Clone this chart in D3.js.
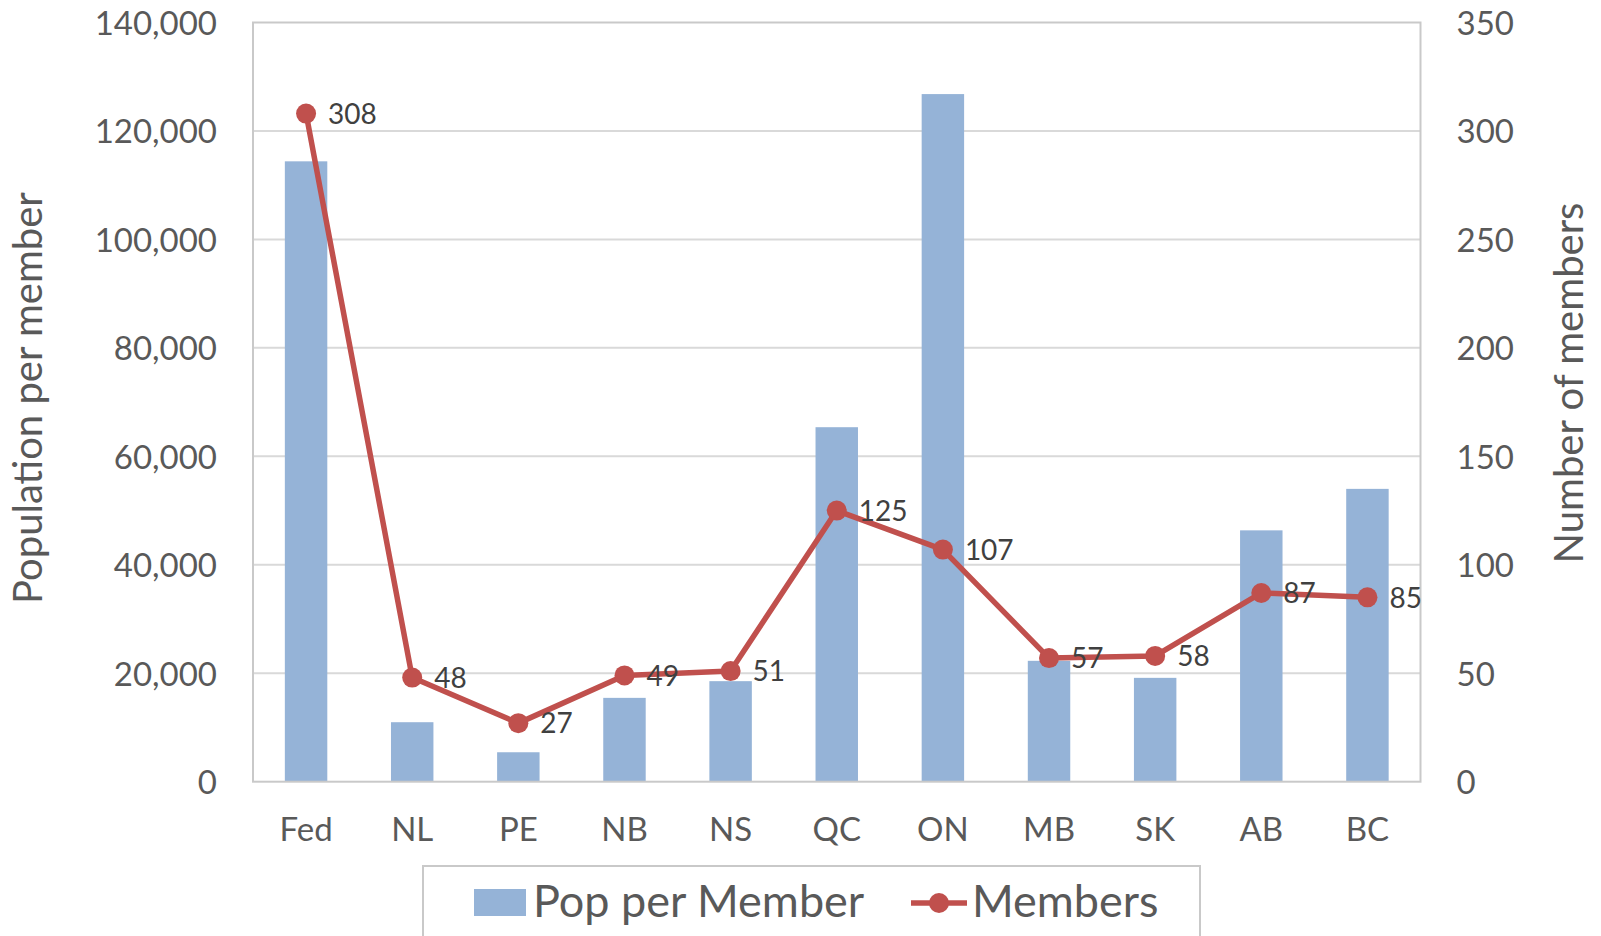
<!DOCTYPE html>
<html>
<head>
<meta charset="utf-8">
<script src="https://cdn.jsdelivr.net/npm/d3@7/dist/d3.min.js"></script>
<style>
  html, body { margin: 0; padding: 0; background: #fff; }
  svg { display: block; font-family: Lato, "Open Sans", sans-serif; }
</style>
</head>
<body>
<svg id="chart" width="1601" height="936"></svg>
<script>
// ---- data ----
const categories = ["Fed", "NL", "PE", "NB", "NS", "QC", "ON", "MB", "SK", "AB", "BC"];
const popPerMember = [114400, 10970, 5430, 15460, 18540, 65370, 126800, 22290, 19150, 46350, 54000];
const members = [308, 48, 27, 49, 51, 125, 107, 57, 58, 87, 85];
const leftTicks = [0, 20000, 40000, 60000, 80000, 100000, 120000, 140000];
const rightTicks = [0, 50, 100, 150, 200, 250, 300, 350];
const seriesNames = ["Pop per Member", "Members"];
const axisTitles = ["Population per member", "Number of members"];

// ---- layout ----
const plot = { left: 253, right: 1420.5, top: 22.5, bottom: 781.7 };
const barColor = "#95b3d7", lineColor = "#c0504d";
const textColor = "#595959", labelColor = "#404040";

const svg = d3.select("#chart");

const x = d3.scaleBand().domain(categories).range([plot.left, plot.right]).padding(0);
const yL = d3.scaleLinear().domain([0, 140000]).range([plot.bottom, plot.top]);
const yR = d3.scaleLinear().domain([0, 350]).range([plot.bottom, plot.top]);

// gridlines
svg.append("g").selectAll("line").data(leftTicks.slice(1, -1)).join("line")
  .attr("x1", plot.left).attr("x2", plot.right)
  .attr("y1", d => yL(d)).attr("y2", d => yL(d))
  .attr("stroke", "#d9d9d9").attr("stroke-width", 2);

// bars
const bw = x.bandwidth() * 0.4;
svg.append("g").selectAll("rect").data(categories).join("rect")
  .attr("x", d => x(d) + x.bandwidth() / 2 - bw / 2)
  .attr("width", bw)
  .attr("y", (d, i) => yL(popPerMember[i]))
  .attr("height", (d, i) => plot.bottom - yL(popPerMember[i]))
  .attr("fill", barColor);

// plot border
svg.append("rect")
  .attr("x", plot.left).attr("y", plot.top)
  .attr("width", plot.right - plot.left).attr("height", plot.bottom - plot.top)
  .attr("fill", "none").attr("stroke", "#c9c9c9").attr("stroke-width", 2);

// left axis
const fsTick = 33;
const axL = svg.append("g").attr("transform", `translate(${plot.left},0)`)
  .call(d3.axisLeft(yL).tickValues(leftTicks).tickFormat(d3.format(",")).tickSize(0).tickPadding(36));
axL.select(".domain").remove();
axL.selectAll("text").attr("font-size", fsTick).attr("fill", textColor)
  .attr("font-family", "Lato, 'Open Sans', sans-serif").attr("dy", (0.36 * fsTick) + "px");

// right axis
const axR = svg.append("g").attr("transform", `translate(${plot.right},0)`)
  .call(d3.axisRight(yR).tickValues(rightTicks).tickSize(0).tickPadding(36));
axR.select(".domain").remove();
axR.selectAll("text").attr("font-size", fsTick).attr("fill", textColor)
  .attr("font-family", "Lato, 'Open Sans', sans-serif").attr("dy", (0.36 * fsTick) + "px");

// bottom axis
const axB = svg.append("g").attr("transform", `translate(0,${plot.bottom})`)
  .call(d3.axisBottom(x).tickSize(0).tickPadding(0));
axB.select(".domain").remove();
axB.selectAll("text").attr("font-size", fsTick).attr("fill", textColor)
  .attr("font-family", "Lato, 'Open Sans', sans-serif").attr("dy", null).attr("y", 59);

// line
const pts = categories.map((c, i) => [x(c) + x.bandwidth() / 2, yR(members[i])]);
svg.append("path").datum(pts)
  .attr("d", d3.line())
  .attr("fill", "none").attr("stroke", lineColor).attr("stroke-width", 5.5)
  .attr("stroke-linejoin", "round");
svg.append("g").selectAll("circle").data(pts).join("circle")
  .attr("cx", d => d[0]).attr("cy", d => d[1]).attr("r", 10).attr("fill", lineColor);

// data labels
const fsLab = 28;
svg.append("g").selectAll("text").data(pts).join("text")
  .attr("x", d => d[0] + 22).attr("y", d => d[1] + 0.37 * fsLab)
  .attr("font-size", fsLab).attr("fill", labelColor)
  .text((d, i) => members[i]);

// axis titles
svg.append("text")
  .attr("transform", "translate(42,398) rotate(-90)")
  .attr("text-anchor", "middle").attr("font-size", 40).attr("fill", textColor)
  .text(axisTitles[0]);
svg.append("text")
  .attr("transform", "translate(1583,383) rotate(-90)")
  .attr("text-anchor", "middle").attr("font-size", 40).attr("fill", textColor)
  .text(axisTitles[1]);

// legend
const lg = svg.append("g");
lg.append("rect").attr("x", 423).attr("y", 866).attr("width", 777).attr("height", 100)
  .attr("fill", "#fff").attr("stroke", "#c9c9c9").attr("stroke-width", 2);
lg.append("rect").attr("x", 474).attr("y", 889).attr("width", 52).attr("height", 27).attr("fill", barColor);
lg.append("text").attr("x", 533).attr("y", 917).attr("font-size", 45).attr("fill", textColor).text(seriesNames[0]);
lg.append("line").attr("x1", 911).attr("x2", 967).attr("y1", 903).attr("y2", 903)
  .attr("stroke", lineColor).attr("stroke-width", 5.5);
lg.append("circle").attr("cx", 939).attr("cy", 903).attr("r", 10).attr("fill", lineColor);
lg.append("text").attr("x", 972).attr("y", 917).attr("font-size", 45).attr("fill", textColor).text(seriesNames[1]);
</script>
</body>
</html>
